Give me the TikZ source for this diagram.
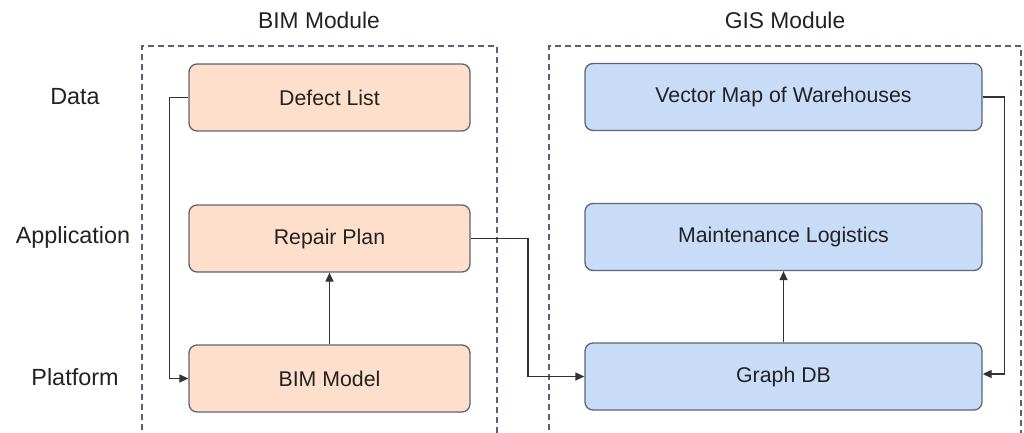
\documentclass[tikz,border=0pt]{standalone}
\usepackage{fontspec}
\setmainfont{Liberation Sans}
\usetikzlibrary{arrows.meta}
\definecolor{bimfill}{HTML}{FDDFCB}
\definecolor{gisfill}{HTML}{C8DCF8}
\definecolor{boxline}{HTML}{5E6478}
\definecolor{frameline}{HTML}{5B6079}
\definecolor{wire}{HTML}{333333}
\definecolor{txt}{HTML}{222222}
\tikzset{
  stagebox/.style={draw=boxline, line width=1.3pt, rounded corners=8pt, font=\fontsize{21.3}{25}\selectfont, text=txt},
  bimbox/.style={stagebox, fill=bimfill, minimum width=281pt, minimum height=67pt},
  gisbox/.style={stagebox, fill=gisfill, minimum width=397pt, minimum height=67pt},
  modframe/.style={draw=frameline, line width=1.3pt, dash pattern=on 6pt off 4pt},
  headlbl/.style={font=\fontsize{22.8}{26}\selectfont, text=txt},
  rowlbl/.style={font=\fontsize{23.4}{27}\selectfont, text=txt},
  wireto/.style={draw=wire, line width=1.3pt, -{Triangle[length=9pt,width=8pt]}}
}
\begin{document}
\begin{tikzpicture}[x=1pt,y=-1pt]
\useasboundingbox (0,0) rectangle (1024,433);
% module frames, open at the bottom
\draw[modframe] (142,440) -- (142,46) -- (497,46) -- (497,440);
\draw[modframe] (549,440) -- (549,46) -- (1021,46) -- (1021,440);
% headings
\node[headlbl] (bimhead) at (319,20) {BIM Module};
\node[headlbl] (gishead) at (785,20) {GIS Module};
\node[rowlbl] (ldata) at (75,97) {Data};
\node[rowlbl] (lapp) at (73,237) {Application};
\node[rowlbl] (lplat) at (75,377) {Platform};
% BIM column
\node[bimbox] (dl) at (329.5,97.5) {Defect List};
\node[bimbox] (rp) at (329.5,238.5) {Repair Plan};
\node[bimbox] (bm) at (329.5,378.5) {BIM Model};
% GIS column
\node[gisbox] (vm) at (783.5,97) {Vector Map of Warehouses};
\node[gisbox] (ml) at (783.5,237) {Maintenance Logistics};
\node[gisbox] (gd) at (783.5,376.5) {Graph DB};
% connectors
\draw[wireto] (dl.west) -- ++(-19,0) |- (bm.west);
\draw[wireto] (bm.north) -- (rp.south);
\draw[wireto] (rp.east) -- (528,238.5) |- (gd.west);
\draw[wireto] (vm.east) -- ++(22,0) |- ([yshift=2.5pt]gd.east);
\draw[wireto] (gd.north) -- (ml.south);
\end{tikzpicture}
\end{document}
